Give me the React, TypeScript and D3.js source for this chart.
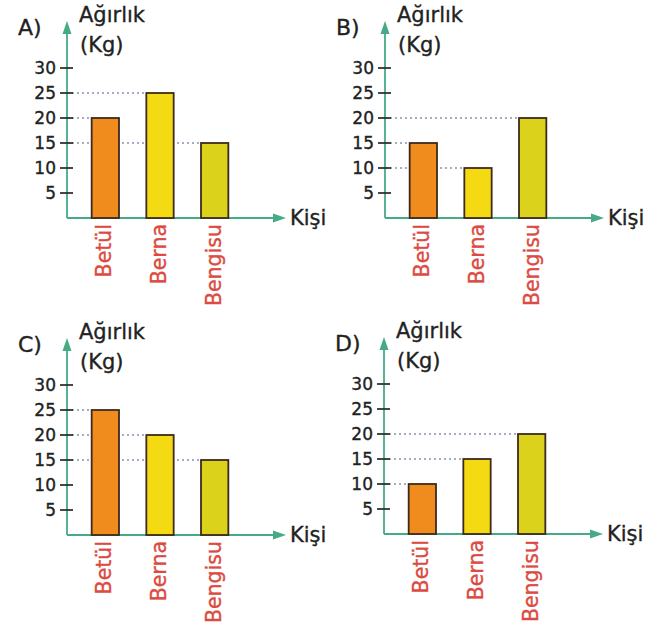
import React from "react";
import * as d3 from "d3";

const names = ["Betül", "Berna", "Bengisu"];
const barColors = ["#f08c1e", "#f4da12", "#dbd21c"];
const panelLabels = ["A)", "B)", "C)", "D)"];
const valuesA = [20, 25, 15];
const valuesB = [15, 10, 20];
const valuesC = [25, 20, 15];
const valuesD = [10, 15, 20];
const yTicks = [5, 10, 15, 20, 25, 30];

const FONT = "'DejaVu Sans', sans-serif";
const GREEN = "#46ab84";
const INK = "#222";
const RED = "#dc4a42";

// origin of each panel = where the two axes meet
const ORIGINS = [
  [67, 218],
  [385, 218],
  [67, 535],
  [384, 534],
];

const xScale = d3
  .scaleBand<string>()
  .domain(names)
  .range([11, 175])
  .paddingInner(0.5)
  .paddingOuter(0.25);

const yScale = d3.scaleLinear().domain([0, 30]).range([0, -150]);

type PanelProps = { label: string; values: number[]; ox: number; oy: number };

const Panel = ({ label, values, ox, oy }: PanelProps) => {
  const bw = xScale.bandwidth();
  // a thin outline makes the glyphs a bit heavier, like the printed ones
  const ink = { fill: INK, stroke: INK, strokeWidth: 0.35 };
  return (
    <g transform={`translate(${ox},${oy})`} fontFamily={FONT}>
      <text x={-49} y={-183} fontSize={22} {...ink}>{label}</text>
      <text x={12} y={-196} fontSize={21} {...ink}>Ağırlık</text>
      <text x={13} y={-166} fontSize={21} {...ink}>(Kg)</text>

      {/* dotted guide lines, behind the bars */}
      {values.map((v, i) => (
        <line
          key={"g" + i}
          x1={0}
          x2={xScale(names[i]) || 0}
          y1={yScale(v)}
          y2={yScale(v)}
          stroke="#8594ad"
          strokeWidth={1.6}
          strokeDasharray="2,3"
        />
      ))}

      {/* axes */}
      <line x1={0} y1={0} x2={0} y2={-186} stroke={GREEN} strokeWidth={1.8} />
      <polygon points="0,-197 -4.5,-184 4.5,-184" fill={GREEN} />
      <line x1={0} y1={0} x2={208} y2={0} stroke={GREEN} strokeWidth={1.8} />
      <polygon points="219,0 206,-4.5 206,4.5" fill={GREEN} />
      <text x={223} y={0} dy="0.35em" fontSize={21} {...ink}>Kişi</text>

      {yTicks.map((t) => (
        <g key={t} transform={`translate(0,${yScale(t)})`}>
          <line x1={-7} x2={6} stroke="#333" strokeWidth={1.8} />
          <text x={-11} dy="0.36em" textAnchor="end" fontSize={17} {...ink}>
            {t}
          </text>
        </g>
      ))}

      {values.map((v, i) => (
        <rect
          key={"b" + i}
          x={xScale(names[i])}
          y={yScale(v)}
          width={bw}
          height={-yScale(v)}
          fill={barColors[i]}
          stroke="#3d2a1c"
          strokeWidth={1.8}
        />
      ))}

      {names.map((n) => (
        <text
          key={n}
          transform={`translate(${(xScale(n) || 0) + bw / 2 + 6},6) rotate(-90)`}
          textAnchor="end"
          fontSize={20.5}
          fill={RED}
          stroke={RED}
          strokeWidth={0.35}
        >
          {n}
        </text>
      ))}
    </g>
  );
};

export default function App() {
  const all = [valuesA, valuesB, valuesC, valuesD];
  return (
    <svg
      width={661}
      height={627}
      style={{ position: "absolute", left: 0, top: 0, background: "#fff" }}
    >
      {all.map((vals, i) => (
        <Panel
          key={i}
          label={panelLabels[i]}
          values={vals}
          ox={ORIGINS[i][0]}
          oy={ORIGINS[i][1]}
        />
      ))}
    </svg>
  );
}
